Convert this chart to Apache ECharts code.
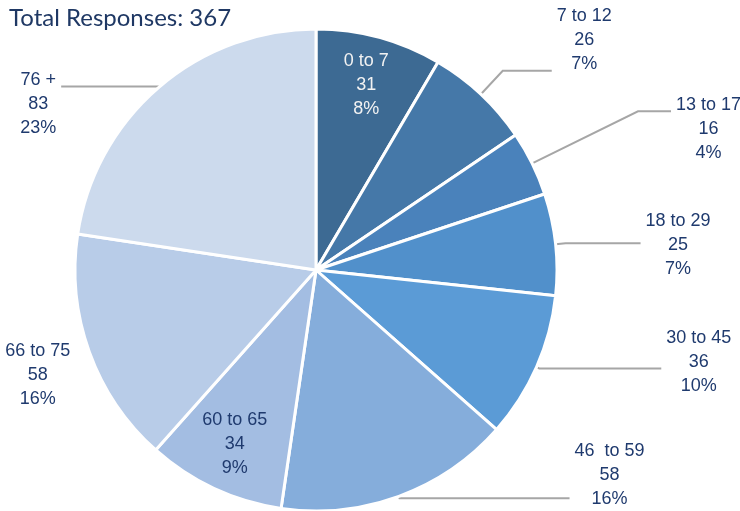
<!DOCTYPE html>
<html>
<head>
<meta charset="utf-8">
<script src="https://cdn.jsdelivr.net/npm/echarts@6/dist/echarts.min.js"></script>
<style>html,body{margin:0;padding:0;background:#fff}#c{width:740px;height:511px}</style>
</head>
<body>
<div id="c"></div>
<script>
const titleText = 'Total Responses: 367';
const categories = ['0 to 7', '7 to 12', '13 to 17', '18 to 29', '30 to 45', '46  to 59', '60 to 65', '66 to 75', '76 +'];
const responses = [31, 26, 16, 25, 36, 58, 34, 58, 83];
const sliceColors = ['#3d6a93', '#4578a8', '#4a82bb', '#5190cb', '#5b9bd6', '#85addb', '#a3bde2', '#b8cce8', '#ccdaed'];

// label placement settings (style only, per slice)
const labelSpecs = [
  { pos: 'inside', color: '#f2f2f2' },
  { pos: 'outside', len: 32, len2: 49, pad: [0, 0, 62, 0] },
  { pos: 'outside', len: 118, len2: 33, pad: [36, 0, 0, 0] },
  { pos: 'outside', len: 10, len2: 75, pad: [4, 0, 0, 0] },
  { pos: 'outside', len: 3, len2: 122, pad: [0, 0, 12, 0] },
  { pos: 'outside', len: 2, len2: 170, pad: [0, 0, 46, 0] },
  { pos: 'inside', color: '#1f3a6e' },
  { pos: 'outside', len: 15, len2: 0, pad: [36, 0, 0, 0], hideLine: true },
  { pos: 'outside', len: 1, len2: 97, pad: [34, 0, 0, 0] }
];

const total = responses.reduce((a, b) => a + b, 0);
const CX = 316, CY = 270, R = 241, INNER_R = 192;
const LABEL_FONT = "'Liberation Sans', Arial, sans-serif";

const data = categories.map((name, i) => {
  const s = labelSpecs[i];
  const item = {
    name: name,
    value: responses[i],
    itemStyle: { color: sliceColors[i] },
    label: { position: s.pos, color: s.color || '#1f3a6e' }
  };
  if (s.pos === 'outside') {
    item.label.padding = s.pad;
    item.labelLine = { show: !s.hideLine, length: s.len, length2: s.len2 };
  }
  return item;
});

const chart = echarts.init(document.getElementById('c'), null, { renderer: 'canvas' });
chart.setOption({
  animation: false,
  backgroundColor: '#ffffff',
  title: {
    text: titleText,
    left: 4,
    top: 1,
    textStyle: { fontFamily: 'Lato', fontSize: 24, fontWeight: 'normal', color: '#1f3864' }
  },
  series: [{
    type: 'pie',
    center: [CX, CY],
    radius: [0, R],
    startAngle: 90,
    clockwise: true,
    avoidLabelOverlap: false,
    itemStyle: { borderColor: '#ffffff', borderWidth: 3 },
    label: {
      show: true,
      overflow: 'none',
      bleedMargin: 0,
      distanceToLabelLine: 5,
      fontFamily: LABEL_FONT,
      fontSize: 18,
      lineHeight: 24,
      formatter: function (p) {
        const pct = Math.round(p.value / total * 100);
        return '{a|' + p.name + '}\n{a|' + p.value + '}\n{a|' + pct + '%}';
      },
      rich: {
        a: {
          align: 'center',
          fontFamily: LABEL_FONT,
          fontSize: 18,
          lineHeight: 24
        }
      }
    },
    labelLine: {
      show: true,
      smooth: false,
      lineStyle: { color: '#a6a6a6', width: 2 }
    },
    labelLayout: function (params) {
      const s = labelSpecs[params.dataIndex];
      if (s.pos !== 'inside') return {};
      const r = params.labelRect;
      const lx = r.x + r.width / 2 - CX;
      const ly = r.y + r.height / 2 - CY;
      const d = Math.sqrt(lx * lx + ly * ly) || 1;
      const k = INNER_R / d - 1;
      return { dx: lx * k, dy: ly * k };
    },
    emphasis: { disabled: true },
    data: data
  }]
});
</script>
</body>
</html>
